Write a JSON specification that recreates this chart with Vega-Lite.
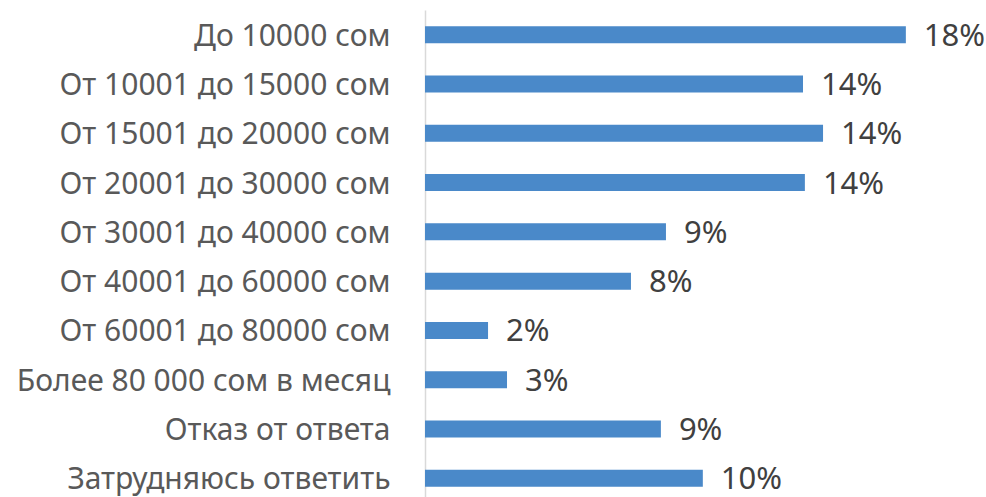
{
  "$schema": "https://vega.github.io/schema/vega-lite/v6.json",
  "autosize": "none",
  "padding": {"left": 425, "top": 10, "right": 0, "bottom": 0},
  "width": 561,
  "height": 493,
  "background": "white",
  "data": {
    "values": [
      {"cat": "До 10000 сом", "v": 18.0, "lab": "18%"},
      {"cat": "От 10001 до 15000 сом", "v": 14.15, "lab": "14%"},
      {"cat": "От 15001 до 20000 сом", "v": 14.9, "lab": "14%"},
      {"cat": "От 20001 до 30000 сом", "v": 14.22, "lab": "14%"},
      {"cat": "От 30001 до 40000 сом", "v": 9.02, "lab": "9%"},
      {"cat": "От 40001 до 60000 сом", "v": 7.71, "lab": "8%"},
      {"cat": "От 60001 до 80000 сом", "v": 2.36, "lab": "2%"},
      {"cat": "Более 80 000 сом в месяц", "v": 3.07, "lab": "3%"},
      {"cat": "Отказ от ответа", "v": 8.83, "lab": "9%"},
      {"cat": "Затрудняюсь ответить", "v": 10.4, "lab": "10%"}
    ]
  },
  "config": {"view": {"stroke": null}},
  "encoding": {
    "y": {
      "field": "cat", "type": "nominal", "sort": null,
      "scale": {"paddingInner": 0.655, "paddingOuter": 0.3275},
      "axis": {
        "title": null, "ticks": false, "domain": true, "domainColor": "#d9d9d9", "domainWidth": 1.5,
        "labelFont": "Noto Sans", "labelFontSize": 30, "labelColor": "#595959", "labelPadding": 35, "labelLimit": 500, "labelOffset": 2
      }
    },
    "x": {
      "field": "v", "type": "quantitative",
      "scale": {"domain": [0, 21]},
      "axis": null
    }
  },
  "layer": [
    {"mark": {"type": "bar", "color": "#4a89c9"}},
    {"mark": {"type": "text", "align": "left", "baseline": "middle", "dx": 18, "dy": 2, "font": "Noto Sans", "fontSize": 31, "color": "#404040"},
     "encoding": {"text": {"field": "lab"}}}
  ]
}
